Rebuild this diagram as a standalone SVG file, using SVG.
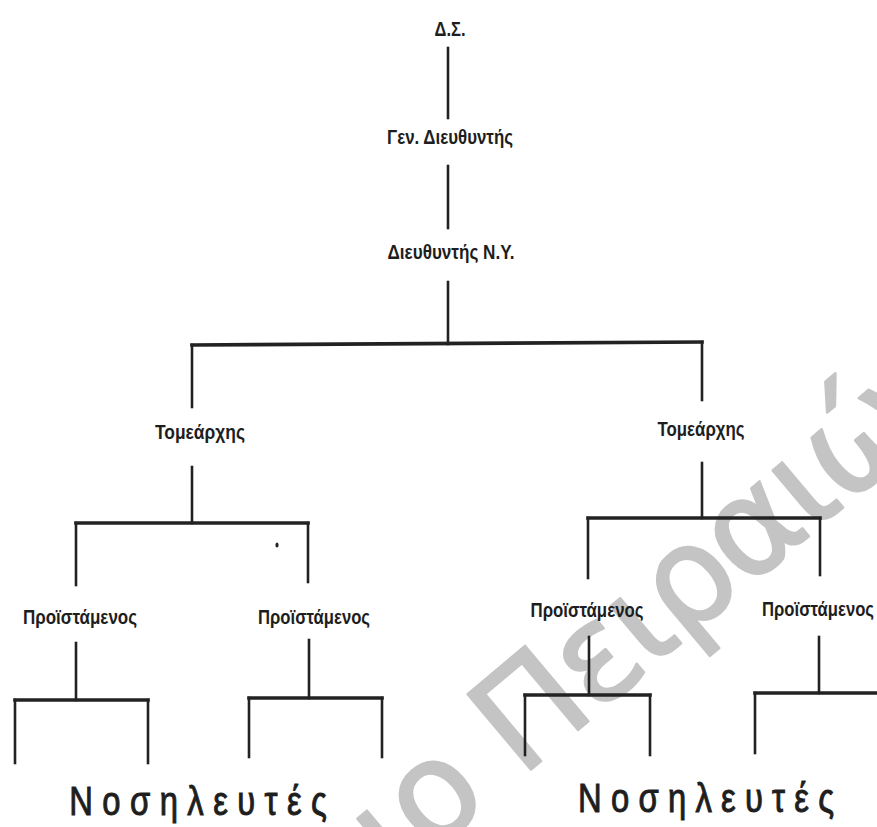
<svg xmlns="http://www.w3.org/2000/svg" width="877" height="827" viewBox="0 0 877 827">
  <style>
    .lbl { font-family: "Liberation Sans", Arial, sans-serif; font-weight: bold; font-size: 19.5px; fill: #1e1e1e; text-anchor: middle; }
    .big { font-family: "Liberation Sans", Arial, sans-serif; font-size: 41px; fill: #1e1e1e; stroke: #1e1e1e; stroke-width: 1; text-anchor: middle; }
    .wm { font-family: "DejaVu Sans", sans-serif; font-size: 135px; fill: #c4c4c4; stroke: #c4c4c4; stroke-width: 2.5; stroke-linejoin: round; }
    .ln { stroke: #222; stroke-width: 2.6; fill: none; stroke-linecap: square; }
    .bar { stroke: #222; stroke-width: 3.6; fill: none; stroke-linecap: square; }
  </style>
  <rect x="0" y="0" width="877" height="827" fill="#ffffff"/>

  <g id="watermark">
    <text class="wm" transform="translate(396.5,882.3) rotate(-40)" letter-spacing="-3">ιο Πειραιώς</text>
  </g>

  <g id="connectors">
    <line class="ln" x1="448" y1="48" x2="448" y2="118"/>
    <line class="ln" x1="448" y1="166" x2="448" y2="228"/>
    <line class="ln" x1="448" y1="282" x2="448" y2="344"/>
    <line class="bar" x1="192" y1="345" x2="702" y2="342"/>
    <line class="ln" x1="192" y1="345" x2="192" y2="407"/>
    <line class="ln" x1="702" y1="342" x2="702" y2="400"/>

    <line class="ln" x1="192" y1="467" x2="192" y2="523"/>
    <line class="bar" x1="76" y1="523" x2="308" y2="523"/>
    <line class="ln" x1="76" y1="523" x2="76" y2="585"/>
    <line class="ln" x1="308" y1="523" x2="308" y2="582"/>

    <line class="ln" x1="702" y1="463" x2="702" y2="518"/>
    <line class="bar" x1="588" y1="518" x2="820" y2="518"/>
    <line class="ln" x1="588" y1="518" x2="588" y2="578"/>
    <line class="ln" x1="820" y1="518" x2="820" y2="575"/>

    <line class="ln" x1="76" y1="643" x2="76" y2="700"/>
    <line class="bar" x1="15" y1="700" x2="148" y2="700"/>
    <line class="ln" x1="15" y1="700" x2="15" y2="763"/>
    <line class="ln" x1="148" y1="700" x2="148" y2="763"/>

    <line class="ln" x1="309" y1="640" x2="309" y2="698"/>
    <line class="bar" x1="249" y1="698" x2="382" y2="698"/>
    <line class="ln" x1="249" y1="698" x2="249" y2="757"/>
    <line class="ln" x1="382" y1="698" x2="382" y2="757"/>

    <line class="ln" x1="589" y1="637" x2="589" y2="695"/>
    <line class="bar" x1="525" y1="695" x2="650" y2="695"/>
    <line class="ln" x1="525" y1="695" x2="525" y2="755"/>
    <line class="ln" x1="650" y1="695" x2="650" y2="755"/>

    <line class="ln" x1="819" y1="637" x2="819" y2="693"/>
    <line class="bar" x1="755" y1="693" x2="880" y2="693"/>
    <line class="ln" x1="755" y1="693" x2="755" y2="753"/>
  </g>

  <ellipse cx="277" cy="545" rx="1.6" ry="2.6" fill="#222"/>

  <g id="ds"><text class="lbl" x="450" y="36" font-size="17" textLength="31" lengthAdjust="spacingAndGlyphs">Δ.Σ.</text></g>
  <g id="gen-director"><text class="lbl" x="450" y="144" textLength="126" lengthAdjust="spacingAndGlyphs">Γεν. Διευθυντής</text></g>
  <g id="nursing-director"><text class="lbl" x="451" y="259" textLength="127" lengthAdjust="spacingAndGlyphs">Διευθυντής Ν.Υ.</text></g>

  <g id="sector-left"><text class="lbl" x="200" y="439" textLength="90" lengthAdjust="spacingAndGlyphs">Τομεάρχης</text></g>
  <g id="sector-right"><text class="lbl" x="701" y="436" textLength="87" lengthAdjust="spacingAndGlyphs">Τομεάρχης</text></g>

  <g id="head-l1"><text class="lbl" x="80" y="624" textLength="114" lengthAdjust="spacingAndGlyphs">Προϊστάμενος</text></g>
  <g id="head-l2"><text class="lbl" x="314" y="624" textLength="112" lengthAdjust="spacingAndGlyphs">Προϊστάμενος</text></g>
  <g id="head-r1"><text class="lbl" x="587" y="617" textLength="113" lengthAdjust="spacingAndGlyphs">Προϊστάμενος</text></g>
  <g id="head-r2"><text class="lbl" x="818" y="616" textLength="112" lengthAdjust="spacingAndGlyphs">Προϊστάμενος</text></g>

  <g id="nurses-left"><text class="big" transform="translate(198,815) scale(0.8,1)" x="0" y="0" textLength="322">Νοσηλευτές</text></g>
  <g id="nurses-right"><text class="big" transform="translate(706,812) scale(0.8,1)" x="0" y="0" textLength="320">Νοσηλευτές</text></g>
</svg>
